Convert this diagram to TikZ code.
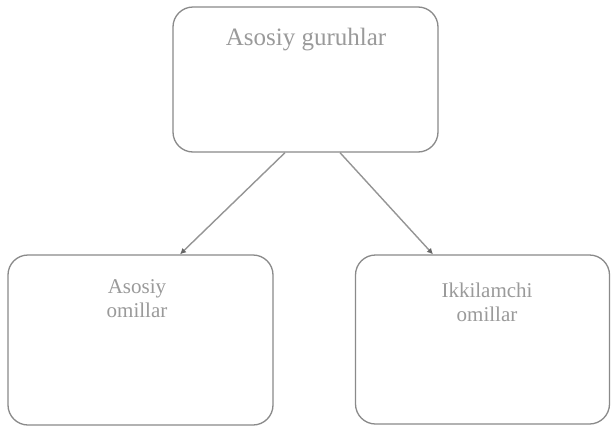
\documentclass[tikz,border=0pt]{standalone}
\usepackage{fontspec}
\setmainfont{Liberation Serif}
\usetikzlibrary{arrows.meta,calc}
\definecolor{boxline}{HTML}{8A8A8A}
\definecolor{txtgray}{HTML}{9A9A9A}
\definecolor{linegray}{HTML}{959595}
\definecolor{tipgray}{HTML}{666666}
\begin{document}
\begin{tikzpicture}[x=1pt,y=-1pt,
  rbox/.style={draw=boxline,line width=1.3pt,rounded corners=20pt},
  lbl/.style={text=txtgray,align=center,font=\fontsize{21}{24}\selectfont},
  conn/.style={draw=linegray,line width=1.4pt,-{Latex[length=6pt,width=6pt,color=tipgray]}}]
\useasboundingbox[fill=white] (0,0) rectangle (611,426);
\node[rbox,minimum width=265pt,minimum height=145pt] (top) at (305.5,79.5) {};
\node[rbox,minimum width=265pt,minimum height=170pt] (left) at (140.5,340) {};
\node[rbox,minimum width=254pt,minimum height=169pt] (right) at (482.5,339.5) {};
\node[text=txtgray,font=\fontsize{25}{28}\selectfont] (toptext) at (306,40) {Asosiy guruhlar};
\node[lbl] (ltext) at (137,299) {Asosiy\\omillar};
\node[lbl] (rtext) at (487,302) {Ikkilamchi\\omillar};
\coordinate (a1) at ($(top.south)+(-20.5,0)$);
\coordinate (a2) at ($(top.south)+(34.5,0)$);
\coordinate (b1) at ($(left.north)+(39.5,0)$);
\coordinate (b2) at ($(right.north)+(-49.5,0)$);
\draw[conn] (a1) -- (b1);
\draw[conn] (a2) -- (b2);
\end{tikzpicture}
\end{document}
